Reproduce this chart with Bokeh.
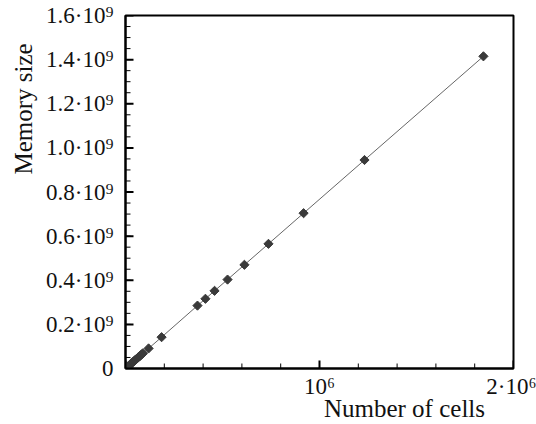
from bokeh.plotting import figure
from bokeh.models import FixedTicker, Title, ColumnDataSource, LinearAxis
from bokeh.embed import file_html
from bokeh.resources import INLINE

cells = [0, 5e3, 1e4, 1.5e4, 2e4, 2.5e4, 3e4, 3.5e4, 4e4, 4.5e4, 5e4, 5.5e4, 6e4,
         6.5e4, 7e4, 7.5e4, 8e4, 8.5e4, 9e4, 1.19e5, 1.86e5, 3.71e5, 4.12e5,
         4.59e5, 5.26e5, 6.13e5, 7.37e5, 9.18e5, 1.232e6, 1.845e6]
memory = [0, 3.8e6, 7.7e6, 1.15e7, 1.53e7, 1.92e7, 2.3e7, 2.68e7, 3.07e7, 3.45e7,
          3.84e7, 4.2e7, 4.6e7, 5.0e7, 5.37e7, 5.75e7, 6.14e7, 6.5e7, 6.9e7, 9.1e7,
          1.42e8, 2.85e8, 3.16e8, 3.52e8, 4.03e8, 4.70e8, 5.65e8, 7.04e8, 9.45e8,
          1.415e9]

y_ticks = [0, 0.2e9, 0.4e9, 0.6e9, 0.8e9, 1.0e9, 1.2e9, 1.4e9, 1.6e9]
y_tick_labels = ["0", "0.2·10⁹", "0.4·10⁹", "0.6·10⁹", "0.8·10⁹", "1.0·10⁹",
                 "1.2·10⁹", "1.4·10⁹", "1.6·10⁹"]
y_minor = [i * 0.05e9 for i in range(33)]
x_ticks = [0, 1e6, 2e6]
x_tick_labels = ["", "10⁶", "2·10⁶"]
x_minor = [i * 0.2e6 for i in range(11)]
x_title = "Number of cells"
x_title_at = 1.438e6
y_title = "Memory size"

FONT = "Liberation Serif"
INK = "#111111"

p = figure(width=536, height=424, output_backend="svg", toolbar_location=None,
           x_range=(0, 2e6), y_range=(0, 1.6e9),
           min_border_left=125, min_border_right=23, min_border_top=15,
           min_border_bottom=5)
p.grid.visible = False
p.outline_line_color = "black"
p.outline_line_width = 2
p.background_fill_color = "white"
p.border_fill_color = "white"

# inward ticks drawn as dash markers centred on the axes (outer half clipped)
p.scatter([0] * len(y_minor), y_minor, marker="dash", size=10,
          line_color="black", line_width=1)
p.scatter([0] * len(y_ticks), y_ticks, marker="dash", size=16,
          line_color="black", line_width=2)
p.scatter(x_minor, [0] * len(x_minor), marker="dash", size=10, angle=1.5708,
          line_color="black", line_width=1)
p.scatter(x_ticks, [0] * len(x_ticks), marker="dash", size=16, angle=1.5708,
          line_color="black", line_width=2)

src = ColumnDataSource(dict(x=cells, y=memory))
p.line("x", "y", source=src, line_color="#666666", line_width=1)
p.scatter("x", "y", source=src, marker="square", size=6.5, angle=0.7854,
          fill_color="#3a3a3a", line_color="#3a3a3a")

for ax, ticks, labels in ((p.xaxis[0], x_ticks, x_tick_labels),
                          (p.yaxis[0], y_ticks, y_tick_labels)):
    ax.ticker = FixedTicker(ticks=ticks)
    ax.major_label_overrides = {t: l for t, l in zip(ticks, labels)}
    ax.major_tick_in = 0
    ax.major_tick_out = 0
    ax.minor_tick_in = 0
    ax.minor_tick_out = 0
    ax.axis_line_width = 2
    ax.major_label_text_font = FONT
    ax.major_label_text_font_size = "23px"
    ax.major_label_text_color = INK

p.yaxis.major_label_standoff = 12
p.xaxis.major_label_standoff = 5

# x title: a label-only axis so it can sit towards the right end
tax = LinearAxis(ticker=FixedTicker(ticks=[x_title_at]),
                 major_label_overrides={x_title_at: x_title},
                 axis_line_color=None, major_tick_line_color=None,
                 minor_tick_line_color=None, major_tick_in=0, major_tick_out=0,
                 minor_tick_in=0, minor_tick_out=0,
                 major_label_standoff=-7, major_label_text_font=FONT,
                 major_label_text_font_size="25px",
                 major_label_text_color=INK)
p.add_layout(tax, "below")

p.add_layout(Title(text=y_title, align="left", offset=194,
                   text_font=FONT, text_font_size="25px", text_color=INK,
                   text_font_style="normal", standoff=14), "left")

open("out.html", "w").write(file_html(p, INLINE))
